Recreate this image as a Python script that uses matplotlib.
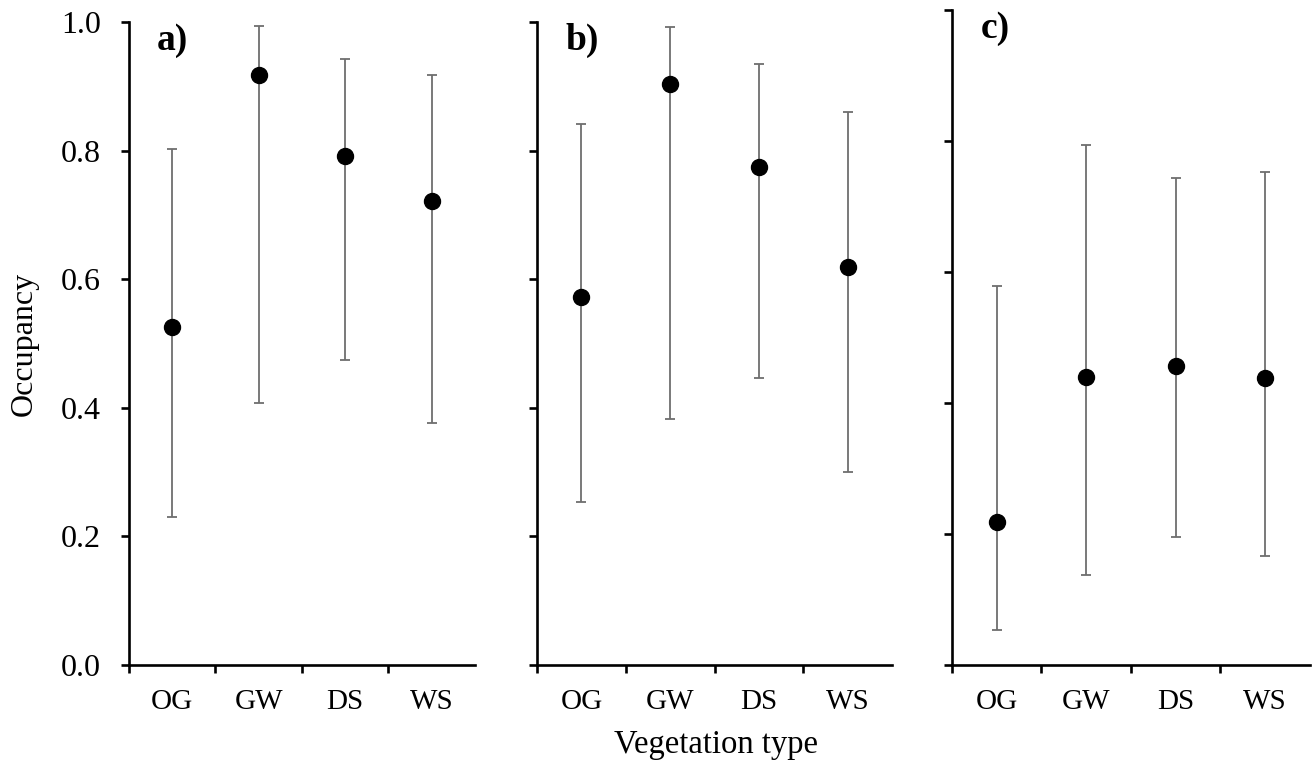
import matplotlib
matplotlib.use('Agg')
from matplotlib import pyplot as plt
from matplotlib.ticker import FixedLocator, NullFormatter

plt.rcParams['font.family'] = ['Liberation Serif', 'DejaVu Serif']

CATEGORIES = ['OG', 'GW', 'DS', 'WS']

# panel a)
occ_a = [0.525, 0.917, 0.791, 0.722]
low_a = [0.230, 0.408, 0.475, 0.376]
high_a = [0.802, 0.993, 0.942, 0.917]
# panel b)
occ_b = [0.573, 0.903, 0.774, 0.619]
low_b = [0.254, 0.383, 0.446, 0.300]
high_b = [0.841, 0.992, 0.935, 0.860]
# panel c)
occ_c = [0.219, 0.440, 0.457, 0.438]
low_c = [0.054, 0.138, 0.195, 0.167]
high_c = [0.579, 0.794, 0.744, 0.752]

Y_TICKS = [0.0, 0.2, 0.4, 0.6, 0.8, 1.0]
FONT_SIZE = 21
COLOR_BAR = '#6e6e6e'


def draw_panel(ax, occ, low, high, letter, show_y_labels):
    x = [i + 0.5 for i in range(len(CATEGORIES))]
    err = [[o - l for o, l in zip(occ, low)], [h - o for o, h in zip(occ, high)]]
    ax.errorbar(x, occ, yerr=err, fmt='o', color='black', markersize=11.5,
                ecolor=COLOR_BAR, elinewidth=1.3, capsize=3.5, capthick=1.3, clip_on=False)
    ax.set_xlim(0, len(CATEGORIES))
    ax.set_ylim(0, 1.0)
    for side in ['top', 'right']:
        ax.spines[side].set_visible(False)
    for side in ['left', 'bottom']:
        ax.spines[side].set_linewidth(1.9)
    ax.xaxis.set_major_locator(FixedLocator([0, 1, 2, 3]))
    ax.xaxis.set_major_formatter(NullFormatter())
    ax.xaxis.set_minor_locator(FixedLocator(x))
    ax.set_xticklabels(CATEGORIES, minor=True)
    ax.tick_params(axis='x', which='major', direction='out', length=6, width=1.9)
    ax.tick_params(axis='x', which='minor', length=0, pad=17, labelsize=FONT_SIZE)
    ax.set_yticks(Y_TICKS)
    ax.tick_params(axis='y', direction='out', length=6, width=1.9, pad=14, labelsize=23)
    if show_y_labels:
        ax.set_yticklabels([f"{t:.1f}" for t in Y_TICKS])
    else:
        ax.set_yticklabels([])
    ax.text(0.08, 0.998, letter, transform=ax.transAxes, fontsize=27, fontweight='bold',
            ha='left', va='top')


fig = plt.figure(figsize=(13.16, 7.66), dpi=100)
ax_a = fig.add_axes([0.098, 0.1319, 0.2629, 0.8394])
ax_b = fig.add_axes([0.4081, 0.1319, 0.2698, 0.8394])
ax_c = fig.add_axes([0.7234, 0.1319, 0.2720, 0.8550])

draw_panel(ax_a, occ_a, low_a, high_a, 'a)', True)
draw_panel(ax_b, occ_b, low_b, high_b, 'b)', False)
draw_panel(ax_c, occ_c, low_c, high_c, 'c)', False)

ax_a.set_ylabel("Occupancy", fontsize=23, labelpad=16)
fig.text(0.544, 0.028, "Vegetation type", fontsize=23.5, ha='center', va='center')

plt.savefig('out.png', dpi=100)
